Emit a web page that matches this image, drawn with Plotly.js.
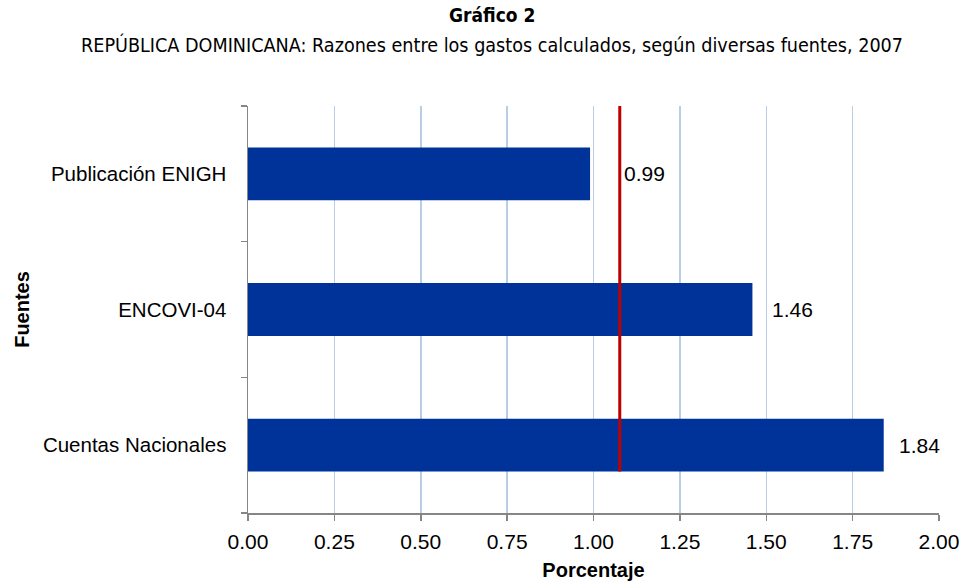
<!DOCTYPE html>
<html>
<head>
<meta charset="utf-8">
<script src="https://cdn.plot.ly/plotly-3.0.1.min.js"></script>
<style>html,body{margin:0;padding:0;background:#fff;}#chart{width:963px;height:581px;}</style>
</head>
<body>
<div id="chart"></div>
<script>
// ---- data ----
const categories = ["Cuentas Nacionales", "ENCOVI-04", "Publicación ENIGH"];
const values = [1.84, 1.46, 0.99];
const valueLabels = ["1.84", "1.46", "0.99"];
const referenceValue = [1.076];
const xTickValues = [0, 0.25, 0.5, 0.75, 1.0, 1.25, 1.5, 1.75, 2.0];
const xTickLabels = ["0.00", "0.25", "0.50", "0.75", "1.00", "1.25", "1.50", "1.75", "2.00"];
const titleText = "Gráfico 2";
const subtitleText = "REPÚBLICA DOMINICANA: Razones entre los gastos calculados, según diversas fuentes, 2007";
const xTitle = "Porcentaje";
const yTitle = "Fuentes";

// ---- styles ----
const labelShift = [13, 18, 32];
const bargap = 0.61;
const baseFont = "Liberation Sans, Arial, sans-serif";
const titleFont = "DejaVu Sans Condensed, Arial Narrow, sans-serif";

const bars = {
  type: "bar",
  orientation: "h",
  x: values,
  y: categories,
  marker: {color: "#003399"},
  hoverinfo: "skip",
  cliponaxis: false
};

const halfBar = (1 - bargap) / 2;
const nCat = categories.length;

const annotations = values.map((v, i) => ({
  x: v, y: categories[i], xref: "x", yref: "y",
  text: valueLabels[i], showarrow: false,
  xanchor: "left", yanchor: "middle", xshift: labelShift[i],
  font: {family: baseFont, size: 21, color: "#000"}
}));
annotations.push({
  xref: "paper", yref: "paper", x: 0.353, y: 1.224,
  text: "<b>" + titleText + "</b>", showarrow: false,
  xanchor: "center", yanchor: "middle",
  font: {family: titleFont, size: 19, color: "#000"}
});
annotations.push({
  xref: "paper", yref: "paper", x: 0.353, y: 1.15,
  text: subtitleText, showarrow: false,
  xanchor: "center", yanchor: "middle",
  font: {family: titleFont, size: 19.6, color: "#000"}
});

const layout = {
  width: 963, height: 581,
  margin: {l: 248, r: 24, t: 106, b: 68},
  paper_bgcolor: "#fff", plot_bgcolor: "#fff",
  showlegend: false,
  bargap: bargap,
  font: {family: baseFont, size: 21, color: "#000"},
  xaxis: {
    range: [0, 2],
    tickvals: xTickValues, ticktext: xTickLabels,
    showgrid: true, gridcolor: "#b9cde5", gridwidth: 1.5,
    zeroline: false,
    showline: true, linecolor: "#868686", linewidth: 1.5,
    ticks: "outside", ticklen: 6, tickcolor: "#868686", tickwidth: 1.5,
    ticklabelstandoff: 3,
    tickfont: {family: baseFont, size: 21, color: "#000"},
    title: {text: "<b>" + xTitle + "</b>", standoff: 15,
            font: {family: baseFont, size: 20, color: "#000"}}
  },
  yaxis: {
    type: "category",
    categoryorder: "array", categoryarray: categories,
    showgrid: false, zeroline: false,
    showline: true, linecolor: "#868686", linewidth: 1.5,
    ticks: "outside", tickson: "boundaries", ticklen: 6, tickcolor: "#868686", tickwidth: 1.5,
    ticklabelstandoff: 16,
    tickfont: {family: baseFont, size: 20.5, color: "#000"},
    title: {text: "<b>" + yTitle + "</b>", standoff: 8,
            font: {family: baseFont, size: 20, color: "#000"}}
  },
  shapes: [{
    type: "line", layer: "above",
    xref: "x", yref: "paper",
    x0: referenceValue[0], x1: referenceValue[0],
    y0: (0.5 - halfBar) / nCat, y1: 1,
    line: {color: "#c00000", width: 3}
  }],
  annotations: annotations
};

Plotly.newPlot("chart", [bars], layout, {displayModeBar: false, staticPlot: true});
</script>
</body>
</html>
